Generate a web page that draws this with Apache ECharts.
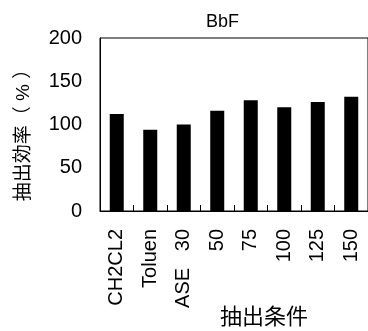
<!DOCTYPE html>
<html><head><meta charset="utf-8">
<script src="https://cdn.jsdelivr.net/npm/echarts@6/dist/echarts.min.js"></script>
<style>html,body{margin:0;padding:0;background:#fff}#c{width:368px;height:331px}</style>
</head><body><div id="c"></div>
<script>
var categories = ['CH2CL2', 'Toluen', 'ASE   30', '50', '75', '100', '125', '150'];
var values = [112, 94, 100, 116, 128, 120, 126, 132];
var yTicks = [0, 50, 100, 150, 200];
var titleText = 'BbF';
var xName = '抽出条件';
var yName = '抽出効率（ % ）';

var ff = "'Liberation Sans', Arial, 'Noto Sans CJK JP', sans-serif";
var chart = echarts.init(document.getElementById('c'), null, {renderer: 'canvas'});
chart.setOption({
  animation: false,
  backgroundColor: '#fff',
  title: {text: titleText, left: 201, top: 8, textStyle: {fontFamily: ff, fontSize: 18, fontWeight: 'normal', color: '#000'}},
  grid: {left: 100, top: 38, right: 0, bottom: 120, outerBoundsMode: 'none', containLabel: false, show: true, borderColor: '#000', borderWidth: 1, backgroundColor: 'transparent'},
  xAxis: {
    type: 'category', data: categories,
    axisLine: {lineStyle: {color: '#000', width: 1}},
    axisTick: {show: true, inside: true, length: 6, lineStyle: {color: '#000'}},
    axisLabel: {rotate: 90, margin: 18, fontFamily: ff, fontSize: 20, color: '#000'},
    name: xName, nameLocation: 'middle', nameGap: 94, nameMoveOverlap: false,
    nameTextStyle: {fontFamily: "'Noto Sans CJK JP', sans-serif", fontSize: 22, color: '#000', padding: [0, 0, 0, 60]}
  },
  yAxis: {
    type: 'value', min: yTicks[0], max: yTicks[yTicks.length - 1], interval: 50,
    splitLine: {show: false},
    axisLine: {show: true, lineStyle: {color: '#000', width: 1}},
    axisTick: {show: false},
    axisLabel: {margin: 18, fontFamily: ff, fontSize: 20, color: '#000'},
    name: yName, nameLocation: 'middle', nameGap: 67, nameRotate: 90, nameMoveOverlap: false,
    nameTextStyle: {fontFamily: ff, fontSize: 19, color: '#000', padding: [0, 12, 0, 0]}
  },
  series: [{type: 'bar', data: values, barWidth: 14, itemStyle: {color: '#000'}}]
});
</script></body></html>
